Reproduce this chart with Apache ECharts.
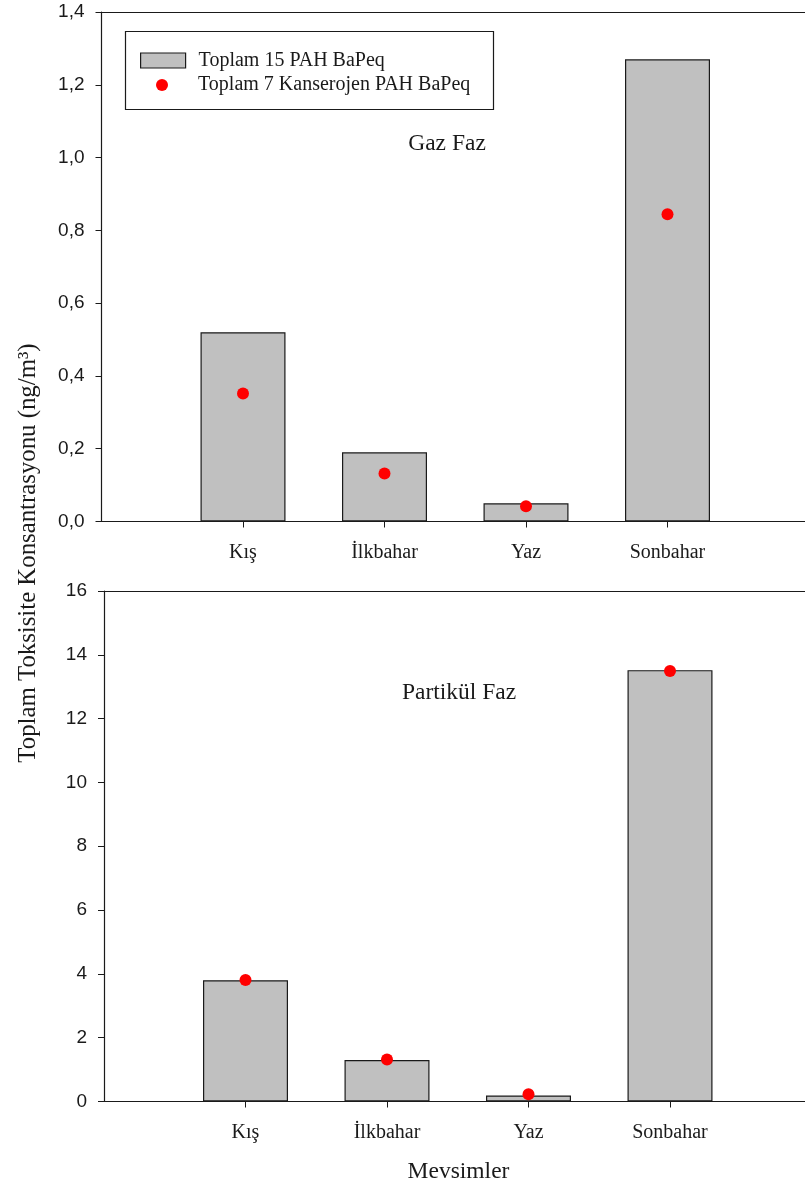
<!DOCTYPE html>
<html>
<head>
<meta charset="utf-8">
<script src="https://cdn.jsdelivr.net/npm/echarts@6/dist/echarts.min.js"></script>
<style>
  html, body { margin: 0; padding: 0; background: #fff; }
  #chart { width: 805px; height: 1189px; }
</style>
</head>
<body>
<div id="chart"></div>
<script>
// Seasons and BaP-equivalent toxicity concentrations (ng/m3)
const seasons = ['Kış', 'İlkbahar', 'Yaz', 'Sonbahar'];
const gasTotal15 = [0.52, 0.19, 0.05, 1.27];
const gasCarc7 = [0.352, 0.132, 0.042, 0.844];
const partTotal15 = [3.80, 1.30, 0.19, 13.52];
const partCarc7 = [3.81, 1.32, 0.23, 13.49];
const gasTicks = { min: 0, max: 1.4, interval: 0.2 };
const partTicks = { min: 0, max: 16, interval: 2 };

const barName = 'Toplam 15 PAH BaPeq';
const dotName = 'Toplam 7 Kanserojen PAH BaPeq';

const SERIF = '"Liberation Serif", "Times New Roman", serif';
const SANS = '"Liberation Sans", Arial, sans-serif';
const INK = '#1a1a1a';

// Seasons sit at positions 1..4 on a numeric x scale; the scale runs past the right edge
const seasonPos = seasons.map((s, i) => i + 1);
const pairs = values => values.map((v, i) => [seasonPos[i], v]);

function xAxesFor(gridIndex, xMax) {
  return [
    {
      type: 'value', gridIndex, min: 0, max: xMax, position: 'bottom',
      axisLine: { show: true, onZero: false, lineStyle: { color: INK, width: 1.2 } },
      axisTick: { show: true, length: 6, customValues: seasonPos, lineStyle: { color: INK } },
      axisLabel: {
        customValues: seasonPos, margin: 21, fontFamily: SERIF, fontSize: 20, color: INK,
        formatter: v => seasons[Math.round(v) - 1] || ''
      },
      splitLine: { show: false }
    },
    {
      // frame line along the top of the panel
      type: 'value', gridIndex, min: 0, max: xMax, position: 'top',
      axisLine: { show: true, onZero: false, lineStyle: { color: INK, width: 1.2 } },
      axisTick: { show: false }, axisLabel: { show: false }, splitLine: { show: false }
    }
  ];
}

function yAxisFor(gridIndex, t, digits) {
  return {
    type: 'value', gridIndex, min: t.min, max: t.max, interval: t.interval,
    axisLine: { show: true, onZero: false, lineStyle: { color: INK, width: 1.2 } },
    axisTick: { show: true, length: 6, lineStyle: { color: INK } },
    axisLabel: {
      margin: 17, fontFamily: SANS, fontSize: 19, color: INK,
      formatter: v => v.toFixed(digits).replace('.', ',')
    },
    splitLine: { show: false }
  };
}

function barSeries(idx, values) {
  return {
    name: barName, type: 'bar', xAxisIndex: idx * 2, yAxisIndex: idx,
    data: pairs(values), barWidth: 85,
    itemStyle: { color: '#c0c0c0', borderColor: INK, borderWidth: 1.2 },
    z: 2
  };
}

function dotSeries(idx, values) {
  return {
    name: dotName, type: 'scatter', xAxisIndex: idx * 2, yAxisIndex: idx,
    data: pairs(values), symbol: 'circle', symbolSize: 12,
    itemStyle: { color: '#ff0000', opacity: 1 }, z: 3
  };
}

const chart = echarts.init(document.getElementById('chart'), null, { renderer: 'canvas' });

chart.setOption({
  animation: false,
  backgroundColor: '#fff',
  grid: [
    { left: 101.5, top: 12, right: 0, height: 509.5, outerBoundsMode: 'none', containLabel: false },
    { left: 104, top: 591, right: 0, height: 510.5, outerBoundsMode: 'none', containLabel: false }
  ],
  xAxis: xAxesFor(0, 703.5 / 141.5).concat(xAxesFor(1, 701 / 141.5)),
  yAxis: [yAxisFor(0, gasTicks, 1), yAxisFor(1, partTicks, 0)],
  legend: [
    {
      data: [barName], left: 140, top: 50.5, padding: 0, orient: 'vertical',
      icon: 'rect', itemWidth: 45, itemHeight: 15,
      itemStyle: { borderColor: INK, borderWidth: 1.2 },
      textStyle: { fontFamily: SERIF, fontSize: 20, color: INK, padding: [0, 0, 0, 8] },
      selectedMode: false
    },
    {
      data: [dotName], left: 156, top: 75, padding: 0, orient: 'vertical',
      icon: 'circle', itemWidth: 12, itemHeight: 12,
      textStyle: { fontFamily: SERIF, fontSize: 20, color: INK, padding: [0, 0, 0, 25] },
      selectedMode: false
    }
  ],
  graphic: [
    {
      type: 'rect', shape: { x: 125.5, y: 31.5, width: 368, height: 78 },
      style: { fill: '#fff', stroke: INK, lineWidth: 1.2 }, z: 0
    },
    {
      type: 'text', x: 447, y: 143.5,
      style: { text: 'Gaz Faz', font: '23.5px ' + SERIF, fill: INK, textAlign: 'center', textVerticalAlign: 'middle' }
    },
    {
      type: 'text', x: 459, y: 692.5,
      style: { text: 'Partikül Faz', font: '23.5px ' + SERIF, fill: INK, textAlign: 'center', textVerticalAlign: 'middle' }
    },
    {
      type: 'text', x: 458.5, y: 1172,
      style: { text: 'Mevsimler', font: '23.5px ' + SERIF, fill: INK, textAlign: 'center', textVerticalAlign: 'middle' }
    },
    {
      type: 'text', x: 28, y: 553, rotation: Math.PI / 2,
      style: { text: 'Toplam Toksisite Konsantrasyonu (ng/m³)', font: '24.8px ' + SERIF, fill: INK, textAlign: 'center', textVerticalAlign: 'middle' }
    }
  ],
  series: [
    barSeries(0, gasTotal15), dotSeries(0, gasCarc7),
    barSeries(1, partTotal15), dotSeries(1, partCarc7)
  ]
});
</script>
</body>
</html>
